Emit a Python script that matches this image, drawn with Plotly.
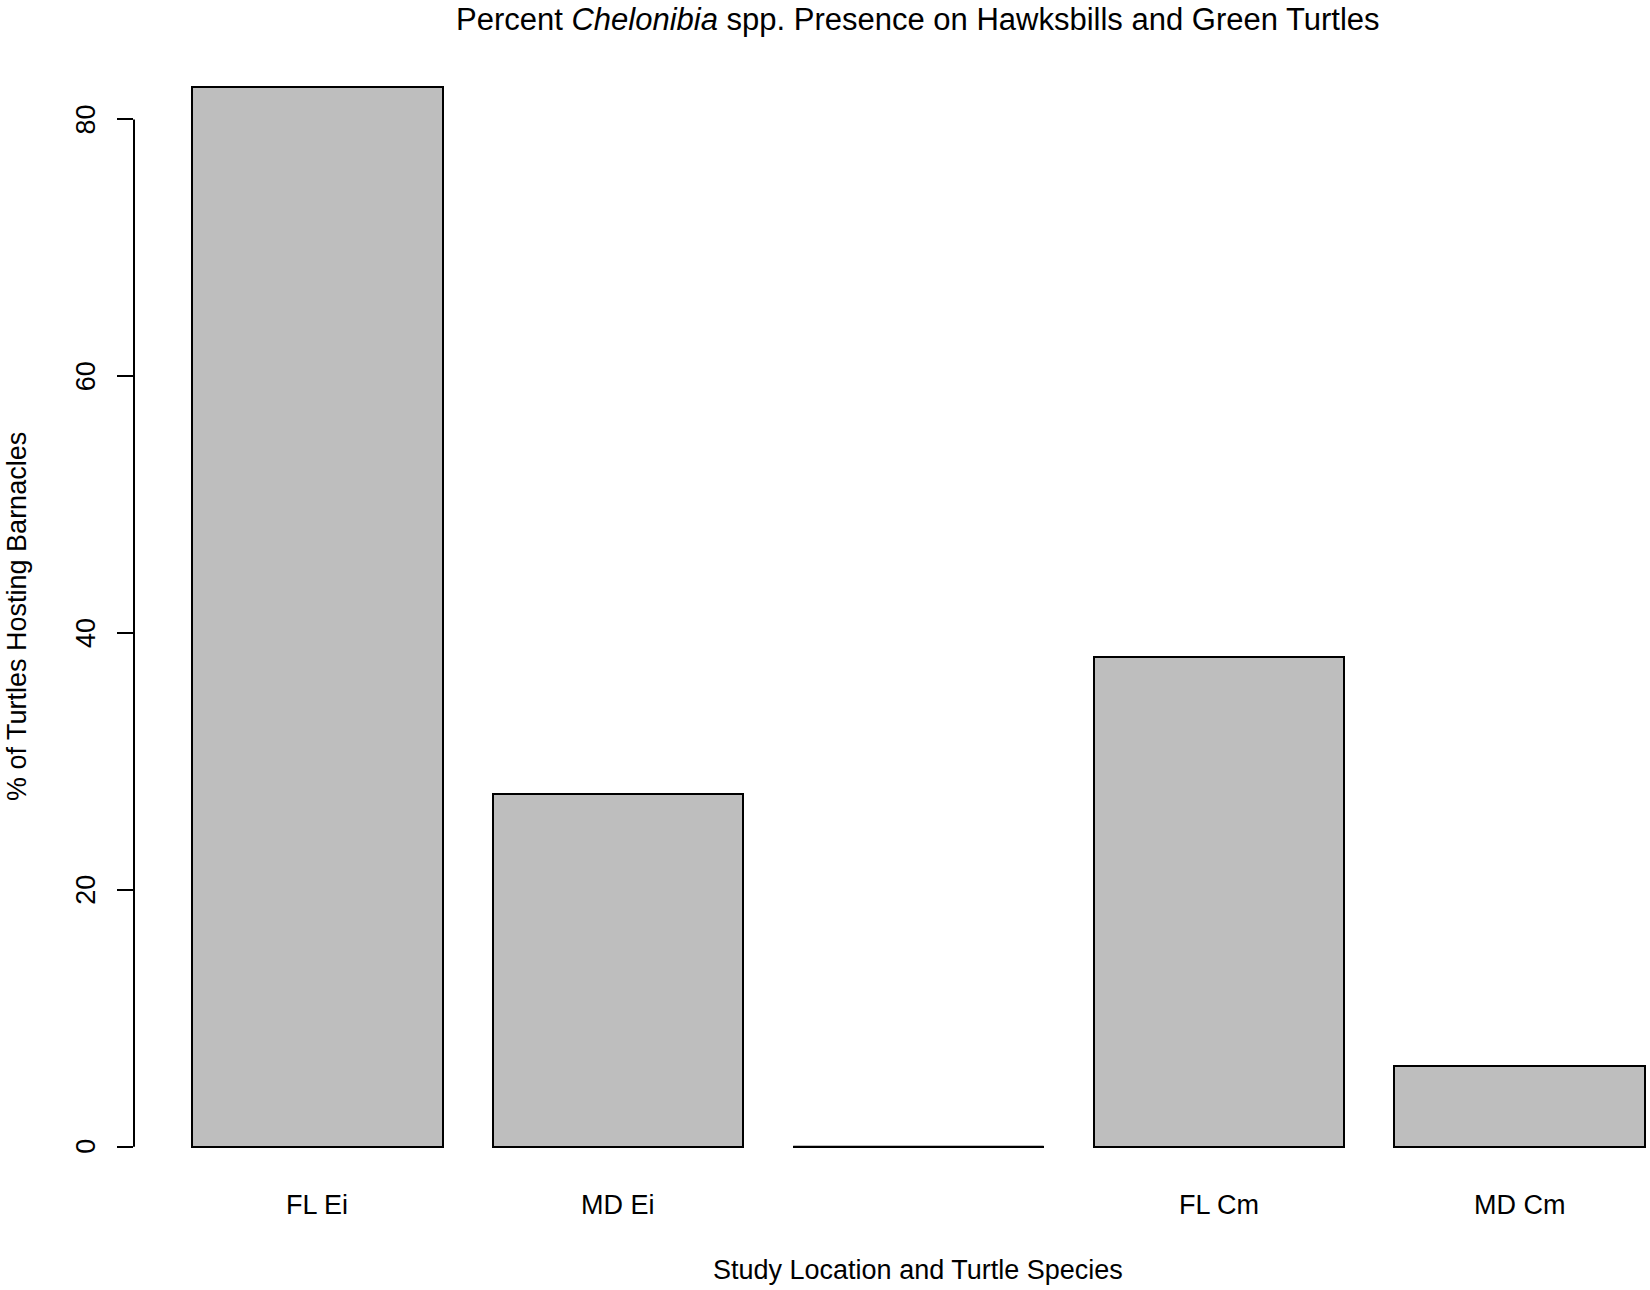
import plotly.graph_objects as go

# ---- data ----
categories = ["FL Ei", "MD Ei", "", "FL Cm", "MD Cm"]
percent_hosting = [82.5, 27.5, 0.0, 38.1, 6.3]
y_ticks = [0, 20, 40, 60, 80]

title_text = "Percent <i>Chelonibia</i> spp. Presence on Hawksbills and Green Turtles"
x_title = "Study Location and Turtle Species"
y_title = "% of Turtles Hosting Barnacles"

# ---- layout constants (R barplot style: width 1, space 0.2) ----
bar_w = 1.0
space = 0.2
centers = [space + bar_w / 2 + i * (bar_w + space) for i in range(len(categories))]

W, H = 1650, 1290
ml, mr, mt, mb = 134, 0, 45, 101
pw, ph = W - ml - mr, H - mt - mb
FONT = "Liberation Sans, Arial, sans-serif"
fs = 27

ymax = max(percent_hosting)
y_range = [-0.04 * ymax, 1.04 * ymax]
left_edge = centers[0] - bar_w / 2
right_edge = centers[-1] + bar_w / 2
ext = 0.04 * (right_edge - left_edge)
x_lo = left_edge - ext
x_hi = x_lo + pw / 250.45
x_mid = (left_edge + right_edge) / 2


def px_x(p):  # page pixel -> paper fraction
    return (p - ml) / pw


def px_y(p):
    return 1 - (p - mt) / ph


fig = go.Figure()
fig.add_trace(go.Bar(
    x=centers, y=percent_hosting, width=bar_w,
    marker=dict(color="#BEBEBE", line=dict(color="black", width=2)),
    hoverinfo="x+y", showlegend=False,
))
# zero-height bars are drawn as a flat line (as R does)
for c, v in zip(centers, percent_hosting):
    if v == 0:
        fig.add_trace(go.Scatter(
            x=[c - bar_w / 2, c + bar_w / 2], y=[v, v], mode="lines",
            line=dict(color="black", width=2), showlegend=False, hoverinfo="skip",
        ))

ann = []
for c, lab in zip(centers, categories):
    ann.append(dict(x=c, xref="x", y=px_y(1205), yref="paper", text=lab,
                    showarrow=False, xanchor="center", yanchor="middle",
                    font=dict(size=fs, family=FONT, color="black")))
for t in y_ticks:
    ann.append(dict(x=px_x(86), xref="paper", y=t, yref="y", text=str(t),
                    textangle=-90, showarrow=False, xanchor="center", yanchor="middle",
                    font=dict(size=fs, family=FONT, color="black")))
ann.append(dict(x=x_mid, xref="x", y=px_y(20), yref="paper", text=title_text,
                showarrow=False, xanchor="center", yanchor="middle",
                font=dict(size=31, family=FONT, color="black")))
ann.append(dict(x=x_mid, xref="x", y=px_y(1270), yref="paper", text=x_title,
                showarrow=False, xanchor="center", yanchor="middle",
                font=dict(size=fs, family=FONT, color="black")))
ann.append(dict(x=px_x(17), xref="paper", y=px_y(617), yref="paper", text=y_title,
                textangle=-90, showarrow=False, xanchor="center", yanchor="middle",
                font=dict(size=fs, family=FONT, color="black")))

fig.update_layout(
    width=W, height=H,
    margin=dict(l=ml, r=mr, t=mt, b=mb, pad=0),
    paper_bgcolor="white", plot_bgcolor="white",
    annotations=ann,
    shapes=[dict(type="line", xref="paper", yref="y", x0=0, x1=0,
                 y0=y_ticks[0], y1=y_ticks[-1], line=dict(color="black", width=2))],
    xaxis=dict(range=[x_lo, x_hi], showgrid=False, zeroline=False, showline=False,
               showticklabels=False, ticks=""),
    yaxis=dict(range=y_range, showgrid=False, zeroline=False, showline=False,
               tickvals=y_ticks, ticks="outside", ticklen=16, tickwidth=2,
               tickcolor="black", showticklabels=False),
    bargap=0,
)

fig.write_html("out.html",
               config={"displayModeBar": False},
               post_script="document.body.style.margin='0';document.body.style.overflow='hidden';")
